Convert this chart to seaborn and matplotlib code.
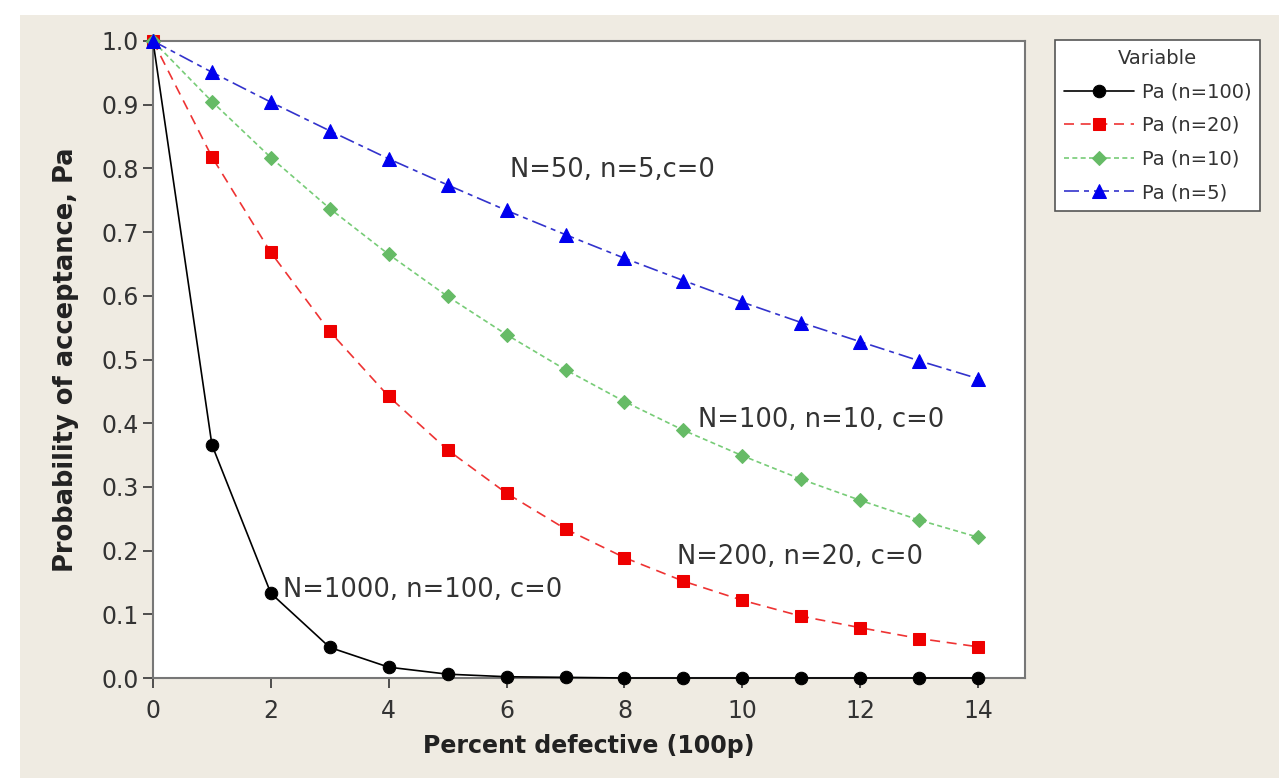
import numpy as np
import pandas as pd
import matplotlib.pyplot as plt
import seaborn as sns

# OC curves, c=0 sampling plans
pct_defective = list(range(0, 15))
pa_n100 = [1.0, 0.366, 0.133, 0.048, 0.017, 0.006, 0.002, 0.001, 0.0, 0.0, 0.0, 0.0, 0.0, 0.0, 0.0]
pa_n20 = [1.0, 0.818, 0.668, 0.544, 0.442, 0.358, 0.290, 0.234, 0.189, 0.152, 0.122, 0.097, 0.079, 0.062, 0.049]
pa_n10 = [1.0, 0.905, 0.817, 0.737, 0.665, 0.599, 0.539, 0.484, 0.434, 0.389, 0.349, 0.312, 0.279, 0.248, 0.221]
pa_n5 = [1.0, 0.951, 0.904, 0.859, 0.815, 0.774, 0.734, 0.696, 0.659, 0.624, 0.590, 0.558, 0.528, 0.498, 0.470]

series_names = ['Pa (n=100)', 'Pa (n=20)', 'Pa (n=10)', 'Pa (n=5)']
series_values = [pa_n100, pa_n20, pa_n10, pa_n5]

df = pd.DataFrame({'pct': pct_defective * 4,
                   'pa': sum(series_values, []),
                   'variable': np.repeat(series_names, len(pct_defective))})

sns.set_style('ticks')
plt.rcParams['font.family'] = ['DejaVu Sans']

fig = plt.figure(figsize=(12.79, 7.78), dpi=100)
fig.patch.set_facecolor('white')
# beige panel behind the graph (white strip on top/left like the original)
fig.patches.append(plt.Rectangle((20 / 1279, 0), 1, 1 - 15 / 778, transform=fig.transFigure,
                                 facecolor='#efebe2', edgecolor='none', zorder=-10))

ax = fig.add_axes([153 / 1279, 100 / 778, (1025 - 153) / 1279, (678 - 41) / 778])
ax.set_facecolor('white')

styles = {
    'Pa (n=100)': dict(line='black', mk='black', marker='o', ls='-', ms=9),
    'Pa (n=20)': dict(line='#ee3333', mk='#ee0000', marker='s', ls=(0, (6, 4)), ms=8.5),
    'Pa (n=10)': dict(line='#77cc77', mk='#66bb66', marker='D', ls=(0, (3, 2)), ms=7.5),
    'Pa (n=5)': dict(line='#3333cc', mk='#0000ee', marker='^', ls=(0, (9, 3, 3, 3)), ms=9.5),
}

for name in series_names:
    st = styles[name]
    sub = df[df['variable'] == name]
    sns.lineplot(data=sub, x='pct', y='pa', ax=ax, color=st['line'], linestyle=st['ls'],
                 marker=st['marker'], markersize=st['ms'], markerfacecolor=st['mk'],
                 markeredgecolor=st['mk'], linewidth=1.2, label=name, clip_on=False, zorder=3)

ax.set_xlim(0, (1025 - 153) / 58.93)
ax.set_ylim(0, 1.0)
ax.set_xticks(range(0, 15, 2))
ax.set_yticks(np.round(np.arange(0, 1.01, 0.1), 1))
ax.set_yticklabels([f'{v:.1f}' for v in np.arange(0, 1.01, 0.1)])
ax.tick_params(labelsize=17, colors='#333333', length=7, width=1.2, direction='out', pad=3)
ax.tick_params(axis='x', pad=8)
for s in ax.spines.values():
    s.set_color('#777777')
    s.set_linewidth(1.5)

ax.set_xlabel('Percent defective (100p)', fontsize=17, fontweight='bold', color='#222222', labelpad=8)
ax.set_ylabel('Probability of acceptance, Pa', fontsize=18.5, fontweight='bold', color='#222222', labelpad=16)

txt = dict(fontsize=18.5, color='#333333', va='center', ha='left')
ax.text(6.05, 0.797, 'N=50, n=5,c=0', **txt)
ax.text(9.25, 0.405, 'N=100, n=10, c=0', **txt)
ax.text(8.9, 0.19, 'N=200, n=20, c=0', **txt)
ax.text(2.2, 0.138, 'N=1000, n=100, c=0', **txt)

leg = ax.legend(title='Variable', loc='upper left', bbox_to_anchor=(1055 / 1279, 738 / 778),
                bbox_transform=fig.transFigure, fontsize=14, title_fontsize=14, frameon=True,
                fancybox=False, edgecolor='#555555', facecolor='white', framealpha=1,
                handlelength=3.6, handletextpad=0.4, borderpad=0.45, borderaxespad=0,
                labelspacing=0.75)
leg.get_frame().set_linewidth(1.2)
for t in leg.get_texts():
    t.set_color('#333333')
leg.get_title().set_color('#333333')

fig.savefig('out.png', dpi=100, facecolor=fig.get_facecolor())
